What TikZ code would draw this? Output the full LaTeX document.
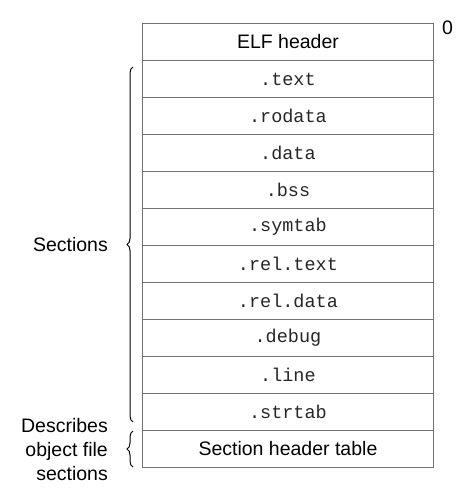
\documentclass[tikz,border=0pt]{standalone}
\usepackage{fontspec}
\setmainfont{Liberation Sans}
\setmonofont{Liberation Mono}
\usetikzlibrary{decorations.pathreplacing}
\begin{document}
\begin{tikzpicture}[x=1pt,y=-1pt,
  row/.style={draw=black!55, line width=0.9pt, minimum width=291pt, minimum height=37pt, inner sep=0pt, anchor=north west},
  sans/.style={font=\fontsize{19.5}{24}\selectfont},
  mono/.style={font=\fontsize{18.5}{22}\ttfamily, text=black!85},
  lab/.style={font=\fontsize{19.5}{24}\selectfont, align=right, anchor=east, inner sep=0pt},
  brc/.style={draw=black, line width=1pt, decorate, decoration={brace, amplitude=6pt}}]
\useasboundingbox (0,0) rectangle (474,503);
\node[row, sans] (elf) at (142,23) {ELF header};
\node[row, mono] (text) at (142,60) {.text};
\node[row, mono] (rodata) at (142,97) {.rodata};
\node[row, mono] (data) at (142,134) {.data};
\node[row, mono] (bss) at (142,171) {.bss};
\node[row, mono] (symtab) at (142,208) {.symtab};
\node[row, mono] (reltext) at (142,245) {.rel.text};
\node[row, mono] (reldata) at (142,282) {.rel.data};
\node[row, mono] (debug) at (142,319) {.debug};
\node[row, mono] (line) at (142,356) {.line};
\node[row, mono] (strtab) at (142,393) {.strtab};
\node[row, sans] (sht) at (142,430) {Section header table};
\node[sans, inner sep=0pt, anchor=north west] (zero) at (442,21) {0};
\coordinate (s1) at (133,422);
\coordinate (s2) at (133,67);
\coordinate (d1) at (133,467);
\coordinate (d2) at (133,431);
\draw[brc] (s1) -- (s2);
\draw[brc] (d1) -- (d2);
\node[lab] (sections) at (108,245) {Sections};
\node[lab] (describes) at (108,450) {Describes\\object file\\sections};
\end{tikzpicture}
\end{document}
